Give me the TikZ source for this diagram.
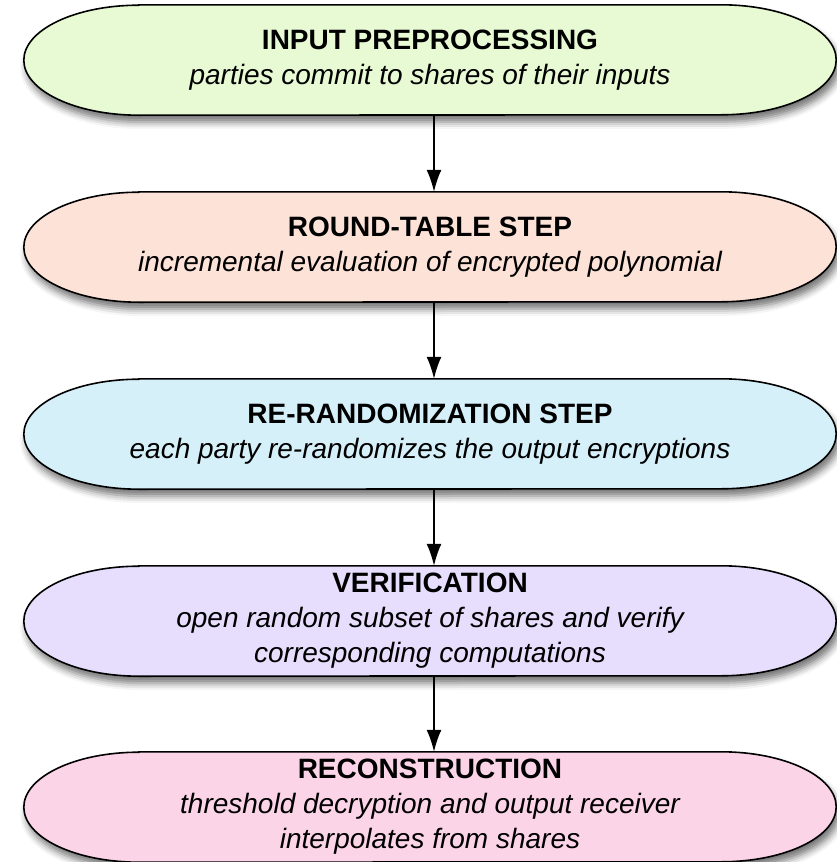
\documentclass[tikz,border=0pt]{standalone}
\usepackage{fontspec}
\setmainfont{Liberation Sans}
\usetikzlibrary{arrows.meta,backgrounds,shadows.blur}
\definecolor{inputgreen}{RGB}{232,250,212}
\definecolor{roundpeach}{RGB}{253,226,216}
\definecolor{rerandblue}{RGB}{214,240,250}
\definecolor{veriflilac}{RGB}{230,222,252}
\definecolor{reconpink}{RGB}{252,212,232}
\def\pillbox(#1)#2{\path[pill,fill=#2] ([xshift=115pt]#1.north west) -- ([xshift=-115pt]#1.north east) arc[start angle=90,end angle=-90,x radius=115pt,y radius=55pt] -- ([xshift=115pt]#1.south west) arc[start angle=270,end angle=90,x radius=115pt,y radius=55pt] -- cycle;}

\begin{document}
\begin{tikzpicture}[x=1pt,y=1pt,
		phase/.style={rectangle,minimum width=812pt,minimum height=110pt,inner sep=0pt,align=center,font=\fontsize{28}{35}\selectfont\itshape},
		pill/.style={draw=black,line width=1.6pt,blur shadow={shadow xshift=3pt,shadow yshift=-7pt,shadow blur radius=7pt,shadow opacity=55}},
		flow/.style={line width=1.6pt,-{Latex[length=22pt,width=15pt]}}]
		\useasboundingbox (0,0) rectangle (836,-862);
		
		%%%%% PHASES %%%%%
		\node[phase] (inp) at (430,-60) {{\upshape\bfseries INPUT PREPROCESSING}\\parties commit to shares of their inputs};
		\node[phase] (rtab) at (430,-247) {{\upshape\bfseries ROUND-TABLE STEP}\\incremental evaluation of encrypted polynomial};
		\node[phase] (rerand) at (430,-434) {{\upshape\bfseries RE-RANDOMIZATION STEP}\\each party re-randomizes the output encryptions};
		\node[phase] (verif) at (430,-621) {{\upshape\bfseries VERIFICATION}\\open random subset of shares and verify\\corresponding computations};
		\node[phase] (recon) at (430,-807) {{\upshape\bfseries RECONSTRUCTION}\\threshold decryption and output receiver\\interpolates from shares};
		
		\begin{scope}[on background layer]
			\pillbox(inp){inputgreen}
			\pillbox(rtab){roundpeach}
			\pillbox(rerand){rerandblue}
			\pillbox(verif){veriflilac}
			\pillbox(recon){reconpink}
		\end{scope}
		
		%%%%% FLOW %%%%%
		\draw[flow] ([xshift=4pt]inp.south) -- ([xshift=4pt]rtab.north);
		\draw[flow] ([xshift=4pt]rtab.south) -- ([xshift=4pt]rerand.north);
		\draw[flow] ([xshift=4pt]rerand.south) -- ([xshift=4pt]verif.north);
		\draw[flow] ([xshift=4pt]verif.south) -- ([xshift=4pt]recon.north);
	\end{tikzpicture}
\end{document}
